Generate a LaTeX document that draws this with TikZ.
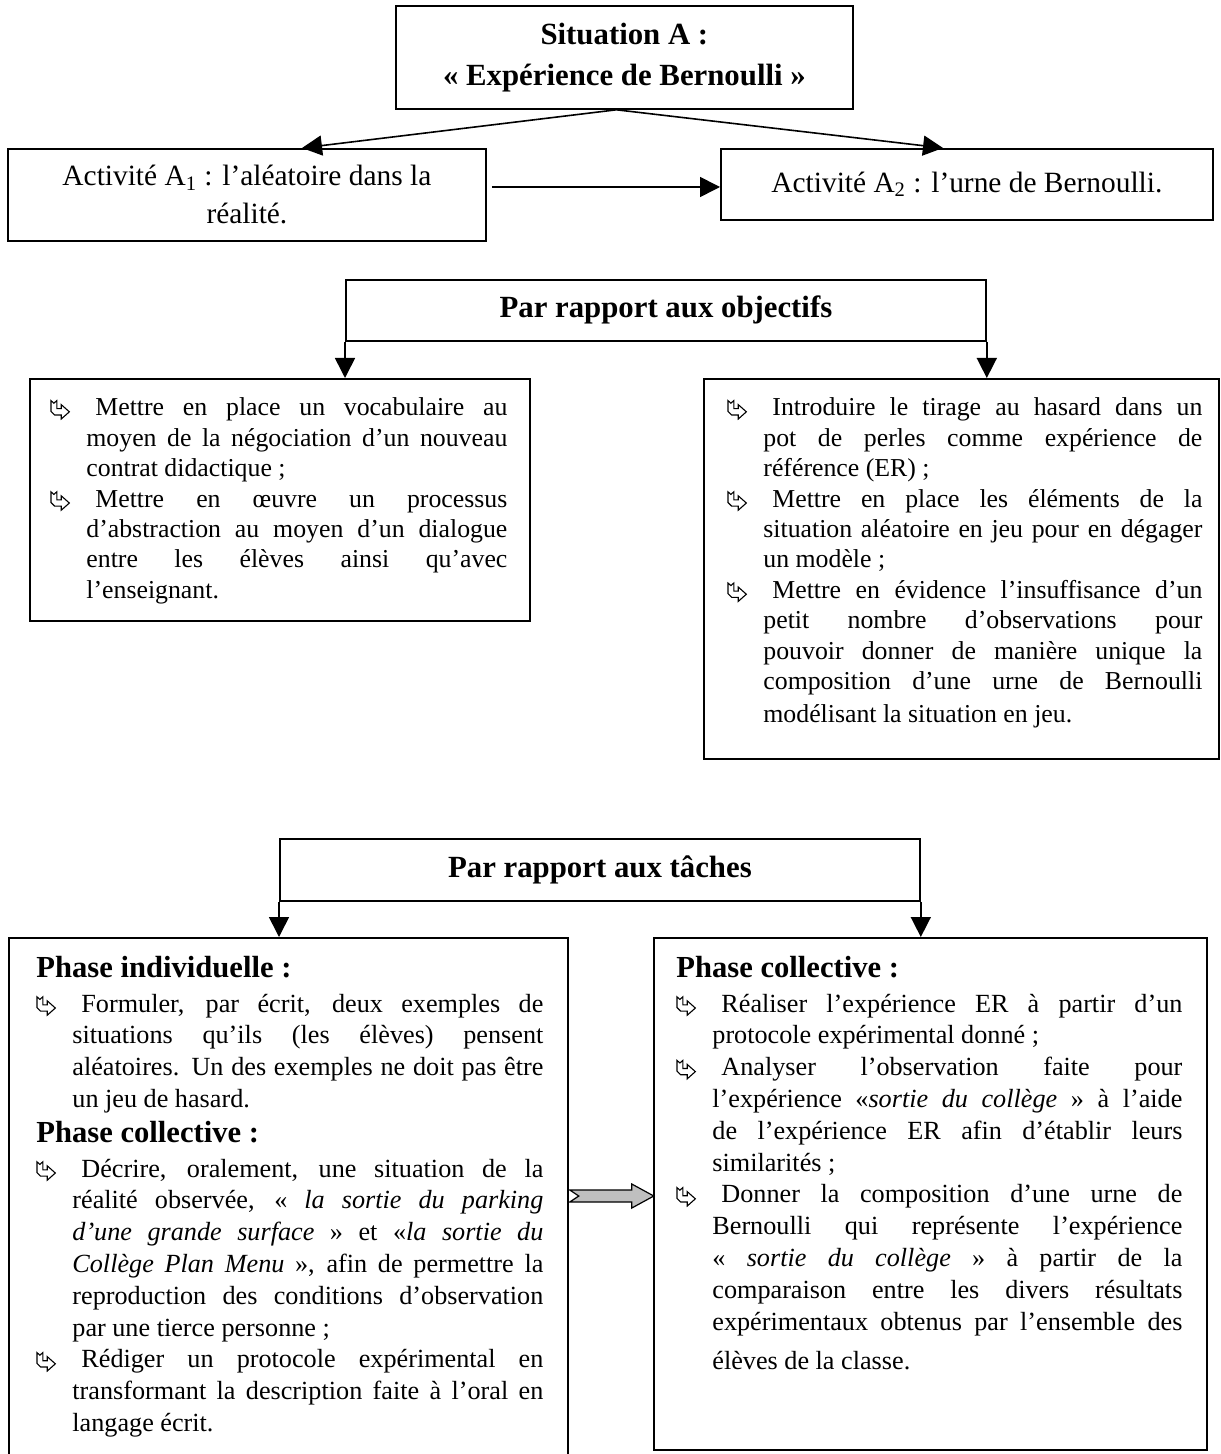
\documentclass[tikz,border=0pt]{standalone}
\usepackage{fontspec}
\setmainfont{Liberation Serif}
\usetikzlibrary{arrows.meta,calc}

\hbadness=10000
\tolerance=9000

% hollow bent-arrow bullet
\newcommand\pointer{\tikz[baseline=1.6pt,x=0.92pt,y=0.92pt,line width=0.55pt,line join=miter]
  \draw (0,10) -- (1.6,8.6) -- (3.2,10) -- (3.2,5.6) -- (5.6,5.6) -- (5.6,7.8)
        -- (10,3.9) -- (5.6,0) -- (5.6,2.2) -- (2,2.2) -- (0,4.2) -- cycle;}
% list item with hanging indent
\newcommand\puce{\par\noindent\hangindent=18pt\hangafter=1\makebox[18pt][l]{\pointer}\hspace{4.5pt}}
% bold phase heading
\newcommand\phase[1]{\par\noindent{\fontsize{15.3}{17}\selectfont\bfseries #1}\vadjust{\vskip1.5pt}}
% strut fixing the height of the first line
\newcommand\fs{\rule{0pt}{11pt}}
\newcommand\objfont{\fontsize{12.9}{15.2}\selectfont}
\newcommand\taskfont{\fontsize{13.1}{15.9}\selectfont}

\begin{document}
\begin{tikzpicture}[x=0.5pt,y=-0.5pt,
  frame/.style={draw, line width=0.9pt, inner sep=0pt, anchor=north west},
  head/.style={font=\fontsize{15.4}{20.5}\selectfont\bfseries, align=center},
  act/.style={font=\fontsize{14.7}{19}\selectfont, align=center},
  body/.style={anchor=north west, inner sep=0pt, align=justify},
  arr/.style={line width=0.8pt, -{Triangle[length=10pt,width=10pt]}},
  blockarrow/.style={draw, line width=0.6pt, fill=black!25, line join=miter}]

\fill[white] (0,0) rectangle (1220,1454);
\useasboundingbox (0,0) rectangle (1220,1454);

% --- situation and its two activities
\node[frame, head, minimum width=228.5pt, minimum height=51.5pt] (sitA) at (395,5)
  {Situation A :\\« Expérience de Bernoulli »};
\node[frame, act, minimum width=239pt, minimum height=46pt] (a1) at (7,148)
  {Activité A\textsubscript{1} : l’aléatoire dans la\\réalité.};
\node[frame, act, minimum width=246pt, minimum height=35.5pt] (a2) at (720,148)
  {Activité A\textsubscript{2} : l’urne de Bernoulli.};

\coordinate (apex) at ($(sitA.south)+(-8,0)$);
\draw[arr] (apex) -- (a1.north -| 302,0);
\draw[arr] (apex) -- (a2.north -| 943,0);
\draw[arr] ($(a1.east |- 0,187)+(5,0)$) -- (a2.west |- 0,187);

% --- objectives
\node[frame, head, minimum width=320pt, minimum height=30.5pt] (obj) at (345,279)
  {Par rapport aux objectifs};
\node[frame, minimum width=250pt, minimum height=121pt] (lobj) at (29,378) {};
\node[frame, minimum width=257.5pt, minimum height=190pt] (robj) at (703,378) {};
\draw[arr] (obj.south west) -- (lobj.north -| obj.south west);
\draw[arr] (obj.south east) -- (robj.north -| obj.south east);

\node[body, text width=228.5pt, font=\objfont] (lobjtxt) at (50,385) {%
\puce\fs Mettre en place un vocabulaire au\linebreak moyen de la négociation d’un nouveau\linebreak contrat didactique~;
\puce Mettre en œuvre un processus\linebreak d’abstraction au moyen d’un dialogue\linebreak entre les élèves ainsi qu’avec\linebreak l’enseignant.\par};

\node[body, text width=237.5pt, font=\objfont] (robjtxt) at (727,385) {%
\puce\fs Introduire le tirage au hasard dans un\linebreak pot de perles comme expérience de\linebreak référence (ER)~;
\puce Mettre en place les éléments de la\linebreak situation aléatoire en jeu pour en dégager\linebreak un modèle~;
\puce Mettre en évidence l’insuffisance d’un\linebreak petit nombre d’observations pour\linebreak pouvoir donner de manière unique la\linebreak composition d’une urne de Bernoulli\vadjust{\vskip1.5pt}\linebreak modélisant la situation en jeu.\par};

% --- tasks
\node[frame, head, minimum width=320pt, minimum height=31pt] (tasks) at (279,838)
  {Par rapport aux tâches};
\node[frame, minimum width=279.5pt, minimum height=259.5pt] (ltask) at (8,937) {};
\node[frame, minimum width=276.5pt, minimum height=256pt] (rtask) at (653,937) {};
\draw[arr] (tasks.south west) -- (ltask.north -| tasks.south west);
\draw[arr] (tasks.south east) -- (rtask.north -| tasks.south east);

\node[body, text width=253.5pt, font=\taskfont] (ltasktxt) at (36,945) {%
\phase{\fs Phase individuelle~:}
\puce Formuler, par écrit, deux exemples de\linebreak situations qu’ils (les élèves) pensent\linebreak aléatoires. Un des exemples ne doit pas être\linebreak un jeu de hasard.
\par\vspace{1.5pt}\phase{Phase collective~:}
\puce Décrire, oralement, une situation de la\linebreak réalité observée, «~\textit{la sortie du parking}\linebreak \textit{d’une grande surface}~» et «\textit{la sortie du}\linebreak \textit{Collège Plan Menu}~», afin de permettre la\linebreak reproduction des conditions d’observation\linebreak par une tierce personne~;
\puce Rédiger un protocole expérimental en\linebreak transformant la description faite à l’oral en\linebreak langage écrit.\par};

\node[body, text width=253pt, font=\taskfont] (rtasktxt) at (676,945) {%
\phase{\fs Phase collective~:}
\puce Réaliser l’expérience ER à partir d’un\linebreak protocole expérimental donné~;
\puce Analyser l’observation faite pour\linebreak l’expérience «\textit{sortie du collège}~» à l’aide\linebreak de l’expérience ER afin d’établir leurs\linebreak similarités~;
\puce Donner la composition d’une urne de\linebreak Bernoulli qui représente l’expérience\linebreak «~\textit{sortie du collège}~» à partir de la\linebreak comparaison entre les divers résultats\linebreak expérimentaux obtenus par l’ensemble des\vadjust{\vskip4pt}\linebreak élèves de la classe.\par};

% grey block arrow between the two phases
\begin{scope}[shift={(ltask.east |- 0,1196)}]
  \draw[blockarrow] (1,-6) -- (63,-6) -- (63,-12) -- (85,0) -- (63,12) -- (63,6)
    -- (1,6) -- (10,0) -- cycle;
\end{scope}
\end{tikzpicture}
\end{document}
